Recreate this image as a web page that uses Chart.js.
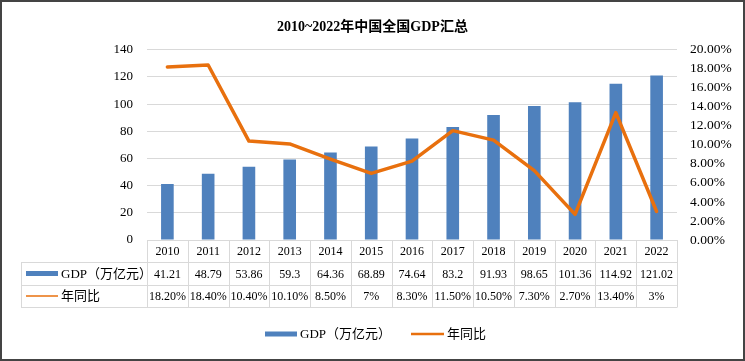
<!DOCTYPE html>
<html><head><meta charset="utf-8">
<script src="https://cdn.jsdelivr.net/npm/chart.js@4/dist/chart.umd.min.js"></script>
<style>html,body{margin:0;padding:0;background:#fff}#w{width:745px;height:361px}</style>
</head><body><div id="w"><canvas id="c" width="745" height="361"></canvas></div>
<script>
const years = ['2010','2011','2012','2013','2014','2015','2016','2017','2018','2019','2020','2021','2022'];
const gdp = [41.21,48.79,53.86,59.3,64.36,68.89,74.64,83.2,91.93,98.65,101.36,114.92,121.02];
const gdpText = ['41.21','48.79','53.86','59.3','64.36','68.89','74.64','83.2','91.93','98.65','101.36','114.92','121.02'];
const growth = [18.2,18.4,10.4,10.1,8.5,7,8.3,11.5,10.5,7.3,2.7,13.4,3];
const growthText = ['18.20%','18.40%','10.40%','10.10%','8.50%','7%','8.30%','11.50%','10.50%','7.30%','2.70%','13.40%','3%'];
const seriesNames = ['GDP（万亿元）','年同比'];
const chartTitle = '2010~2022年中国全国GDP汇总';

const BLUE = '#4F81BD', ORANGE = '#E8700E', GRID = '#D9D9D9';
const SERIF = '"Liberation Serif","Times New Roman","Noto Sans CJK SC",serif';

const tablePlugin = {
  id: 'tablePlugin',
  beforeDraw(chart) {
    const ctx = chart.ctx;
    ctx.save(); ctx.fillStyle = '#fff'; ctx.fillRect(0, 0, chart.width, chart.height); ctx.restore();
  },
  afterDraw(chart) {
    const ctx = chart.ctx, xs = chart.scales.x, ca = chart.chartArea;
    const n = years.length;
    const L = ca.left, R = ca.right, w = (R - L) / n;
    const y0 = ca.bottom, y1 = y0 + 22, y2 = y1 + 23, y3 = y2 + 22;
    const legL = 21;
    ctx.save();
    ctx.strokeStyle = GRID; ctx.lineWidth = 1;
    const hl = (x1, x2, y) => { ctx.beginPath(); ctx.moveTo(x1, Math.round(y) + 0.5); ctx.lineTo(x2, Math.round(y) + 0.5); ctx.stroke(); };
    const vl = (x, ya, yb) => { ctx.beginPath(); ctx.moveTo(Math.round(x) + 0.5, ya); ctx.lineTo(Math.round(x) + 0.5, yb); ctx.stroke(); };
    hl(L, R, y0); hl(legL, R, y1); hl(legL, R, y2); hl(legL, R, y3);
    for (let i = 0; i <= n; i++) vl(L + i * w, y0, y3 + 0.5);
    vl(legL, y1, y3 + 0.5);
    ctx.fillStyle = '#000'; ctx.textAlign = 'center'; ctx.textBaseline = 'middle';
    ctx.font = '12px ' + SERIF;
    for (let i = 0; i < n; i++) {
      const cx = xs.getPixelForValue(i);
      ctx.fillText(years[i], cx, (y0 + y1) / 2 + 1);
      ctx.fillText(gdpText[i], cx, (y1 + y2) / 2 + 1);
      ctx.fillText(growthText[i], cx, (y2 + y3) / 2 + 1);
    }
    // row legends
    ctx.fillStyle = BLUE; ctx.fillRect(26, (y1 + y2) / 2 - 2.5, 32, 5);
    ctx.strokeStyle = ORANGE; ctx.lineWidth = 1.5;
    ctx.beginPath(); ctx.moveTo(26, (y2 + y3) / 2); ctx.lineTo(58, (y2 + y3) / 2); ctx.stroke();
    ctx.fillStyle = '#000'; ctx.textAlign = 'left'; ctx.font = '13px ' + SERIF;
    ctx.fillText(seriesNames[0], 61, (y1 + y2) / 2 + 1);
    ctx.fillText(seriesNames[1], 61, (y2 + y3) / 2 + 1);
    // bottom legend
    const ly = 334;
    ctx.fillStyle = BLUE; ctx.fillRect(265, ly - 2.5, 32, 5);
    ctx.fillStyle = '#000'; ctx.font = '13px ' + SERIF;
    ctx.fillText(seriesNames[0], 300, ly + 1);
    ctx.strokeStyle = ORANGE; ctx.lineWidth = 2.5;
    ctx.beginPath(); ctx.moveTo(411, ly); ctx.lineTo(444, ly); ctx.stroke();
    ctx.fillText(seriesNames[1], 447, ly + 1);
    // frame
    ctx.strokeStyle = '#444'; ctx.lineWidth = 2;
    ctx.strokeRect(1, 1, 743, 359);
    ctx.restore();
  }
};

new Chart(document.getElementById('c'), {
  data: {
    labels: years,
    datasets: [
      { type: 'line', label: seriesNames[1], data: growth, yAxisID: 'y1', borderColor: ORANGE, backgroundColor: ORANGE,
        borderWidth: 3.5, pointRadius: 0, tension: 0, order: 0, borderCapStyle: 'round', borderJoinStyle: 'round' },
      { type: 'bar', label: seriesNames[0], data: gdp, yAxisID: 'y', backgroundColor: BLUE,
        barPercentage: 0.31, categoryPercentage: 1, order: 1 }
    ]
  },
  options: {
    responsive: false, animation: false, devicePixelRatio: 1,
    layout: { padding: { top: 0, bottom: 54, left: 0, right: 0 } },
    plugins: {
      legend: { display: false }, tooltip: { enabled: false },
      title: { display: true, text: chartTitle, color: '#000',
        font: { family: SERIF, size: 14, weight: 'bold' }, padding: { top: 19, bottom: 14 } }
    },
    scales: {
      x: { type: 'category', display: true, offset: true,
        ticks: { display: false }, grid: { display: false }, border: { display: false },
        afterFit(s) { s.height = 67; } },
      y: { position: 'left', min: 0, max: 140,
        ticks: { stepSize: 20, autoSkip: false, color: '#000', padding: 14, font: { family: SERIF, size: 13 } },
        grid: { color: GRID, drawTicks: false }, border: { display: false },
        afterFit(s) { s.width = 147; } },
      y1: { position: 'right', min: 0, max: 20,
        ticks: { stepSize: 2, autoSkip: false, color: '#000', padding: 13, font: { family: SERIF, size: 13.5 },
          callback: v => v.toFixed(2) + '%' },
        grid: { display: false, drawTicks: false }, border: { display: false },
        afterFit(s) { s.width = 68; } }
    }
  },
  plugins: [tablePlugin]
});
</script>
</body></html>
